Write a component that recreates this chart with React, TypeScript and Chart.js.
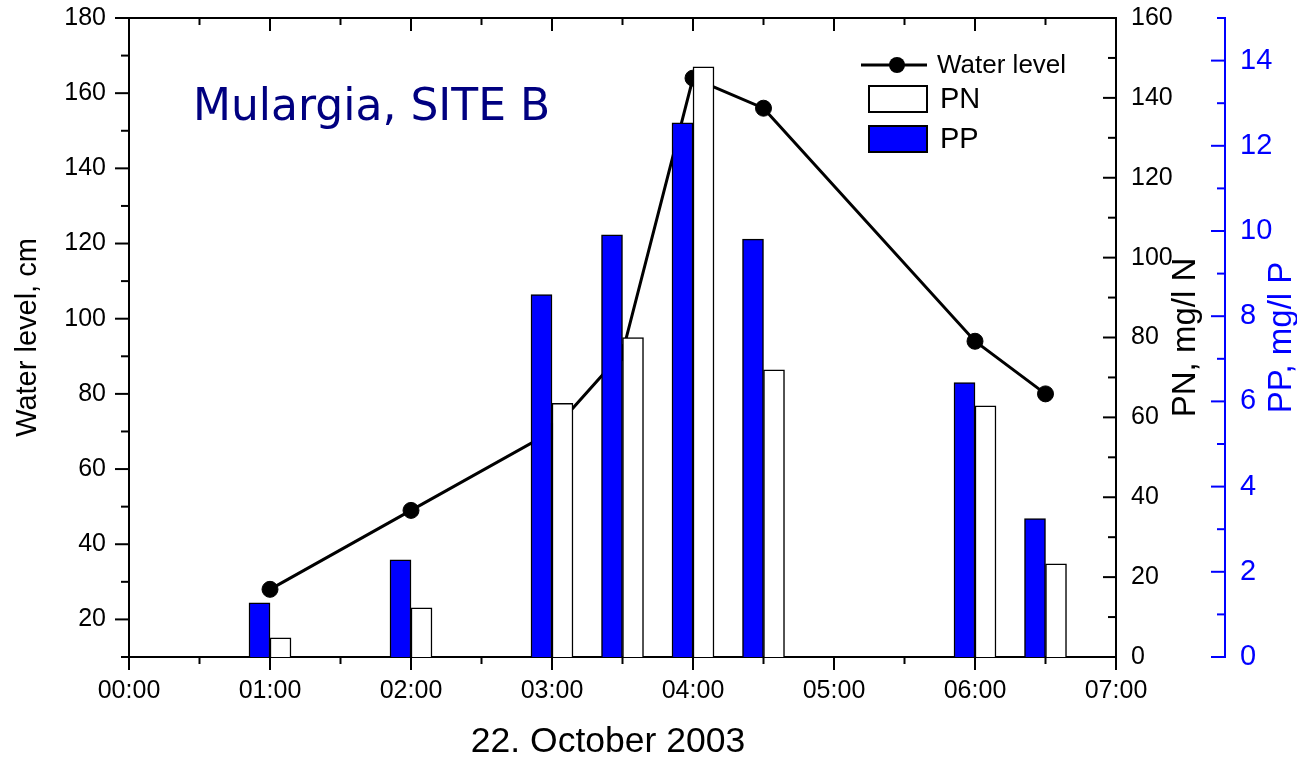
import React, { useEffect, useRef } from 'react';
import { Chart, registerables } from 'chart.js';

Chart.register(...registerables);

// ---- Data ----
const sampleHours = [1, 2, 3, 3.5, 4, 4.5, 6, 6.5];
const waterLevel = [28, 49, 70, 91, 164, 156, 94, 80];
const ppValues = [1.27, 2.28, 8.51, 9.91, 12.54, 9.81, 6.44, 3.25];
const pnValues = [4.8, 12.3, 63.5, 80.0, 147.8, 71.9, 62.9, 23.3];

// ---- Tick values ----
const xMajorTicks = [0, 1, 2, 3, 4, 5, 6, 7];
const xMinorTicks = [0.5, 1.5, 2.5, 3.5, 4.5, 5.5, 6.5];
const waterMajorTicks = [20, 40, 60, 80, 100, 120, 140, 160, 180];
const waterMinorTicks = [10, 30, 50, 70, 90, 110, 130, 150, 170];
const pnMajorTicks = [0, 20, 40, 60, 80, 100, 120, 140, 160];
const pnMinorTicks = [10, 30, 50, 70, 90, 110, 130, 150];
const ppMajorTicks = [0, 2, 4, 6, 8, 10, 12, 14];
const ppMinorTicks = [1, 3, 5, 7, 9, 11, 13, 15];

// ---- Texts ----
const chartTitle = 'Mulargia, SITE B';
const xTitle = '22. October 2003';
const waterTitle = 'Water level, cm';
const pnTitle = 'PN, mg/l N';
const ppTitle = 'PP, mg/l P';
const legendLabels = ['Water level', 'PN', 'PP'];

const FONT = "'Liberation Sans', Arial, sans-serif";
const BLUE = '#0000ff';

const fmtTime = (v: number) => {
  const h = Math.round(v);
  return (h < 10 ? '0' : '') + h + ':00';
};

const noLabelPadding = (s: any) => {
  s.paddingTop = 0;
  s.paddingBottom = 0;
};

const decorPlugin = {
  id: 'decor',
  afterDatasetsDraw(chart: any) {
    const { ctx, chartArea } = chart;
    const { left, right, top, bottom } = chartArea;
    const sx = chart.scales.x;
    const sy = chart.scales.y;
    const spn = chart.scales.yPN;
    const spp = chart.scales.yPP;
    const seg = (x1: number, y1: number, x2: number, y2: number, color: string, w: number) => {
      ctx.strokeStyle = color;
      ctx.lineWidth = w;
      ctx.beginPath();
      ctx.moveTo(x1, y1);
      ctx.lineTo(x2, y2);
      ctx.stroke();
    };
    ctx.save();
    ctx.lineCap = 'butt';
    // top frame
    seg(left - 1, top, right + 1, top, '#000', 2);
    // x ticks: bottom outward, top inward
    xMajorTicks.forEach((v) => {
      const px = sx.getPixelForValue(v);
      seg(px, bottom, px, bottom + 13, '#000', 2);
      seg(px, top, px, top + 13, '#000', 2);
    });
    xMinorTicks.forEach((v) => {
      const px = sx.getPixelForValue(v);
      seg(px, bottom, px, bottom + 7, '#000', 2);
      seg(px, top, px, top + 7, '#000', 2);
    });
    // left axis, outward
    waterMajorTicks.forEach((v) => {
      const py = sy.getPixelForValue(v);
      seg(left - 14, py, left, py, '#000', 2);
    });
    waterMinorTicks.forEach((v) => {
      const py = sy.getPixelForValue(v);
      seg(left - 8, py, left, py, '#000', 2);
    });
    // PN axis, inward
    pnMajorTicks.forEach((v) => {
      const py = spn.getPixelForValue(v);
      seg(right - 13, py, right, py, '#000', 2);
    });
    pnMinorTicks.forEach((v) => {
      const py = spn.getPixelForValue(v);
      seg(right - 8, py, right, py, '#000', 2);
    });
    // PP axis, ticks to the left of its line
    const ppx = spp.left;
    ppMajorTicks.forEach((v) => {
      const py = spp.getPixelForValue(v);
      seg(ppx - 14, py, ppx, py, BLUE, 2);
    });
    ppMinorTicks.forEach((v) => {
      const py = spp.getPixelForValue(v);
      seg(ppx - 8, py, ppx, py, BLUE, 2);
    });
    ctx.restore();
  },
  afterDraw(chart: any) {
    const { ctx, chartArea } = chart;
    const { left, right, top, bottom } = chartArea;
    const midY = (top + bottom) / 2;
    const spn = chart.scales.yPN;
    const spp = chart.scales.yPP;
    ctx.save();
    const vtext = (text: string, x: number, y: number, color: string, size: number) => {
      ctx.save();
      ctx.translate(x, y);
      ctx.rotate(-Math.PI / 2);
      ctx.textAlign = 'center';
      ctx.textBaseline = 'middle';
      ctx.fillStyle = color;
      ctx.font = `${size}px ${FONT}`;
      ctx.fillText(text, 0, 0);
      ctx.restore();
    };
    vtext(pnTitle, spn.left + 70, midY, '#000', 33);
    vtext(ppTitle, spp.left + 57, midY, BLUE, 33);

    // x axis title
    ctx.fillStyle = '#000';
    ctx.font = `35.5px ${FONT}`;
    ctx.textAlign = 'center';
    ctx.textBaseline = 'middle';
    ctx.fillText(xTitle, left + 479, 742);

    // chart title
    ctx.fillStyle = '#000080';
    ctx.font = "44px 'DejaVu Sans', Verdana, sans-serif";
    ctx.textAlign = 'left';
    ctx.textBaseline = 'alphabetic';
    ctx.fillText(chartTitle, left + 64, top + 102);

    // legend
    const lx = right - 255;
    const ly = top + 47;
    ctx.strokeStyle = '#000';
    ctx.lineWidth = 3;
    ctx.beginPath();
    ctx.moveTo(lx, ly);
    ctx.lineTo(lx + 66, ly);
    ctx.stroke();
    ctx.fillStyle = '#000';
    ctx.beginPath();
    ctx.arc(lx + 36, ly, 8, 0, Math.PI * 2);
    ctx.fill();
    ctx.textBaseline = 'middle';
    ctx.font = `26px ${FONT}`;
    ctx.fillText(legendLabels[0], lx + 76, ly + 1);

    ctx.lineWidth = 2;
    ctx.fillStyle = '#ffffff';
    ctx.fillRect(lx + 8, ly + 21, 58, 26);
    ctx.strokeRect(lx + 8, ly + 21, 58, 26);
    ctx.fillStyle = BLUE;
    ctx.fillRect(lx + 8, ly + 61, 58, 26);
    ctx.strokeRect(lx + 8, ly + 61, 58, 26);
    ctx.fillStyle = '#000';
    ctx.font = `29px ${FONT}`;
    ctx.fillText(legendLabels[1], lx + 79, ly + 35);
    ctx.fillText(legendLabels[2], lx + 79, ly + 75);
    ctx.restore();
  },
};

export default function App() {
  const canvasRef = useRef<HTMLCanvasElement>(null);

  useEffect(() => {
    document.body.style.margin = '0';
    const canvas = canvasRef.current as HTMLCanvasElement;
    const chart = new Chart(canvas, {
      type: 'bar',
      data: {
        datasets: [
          {
            type: 'bar',
            label: legendLabels[2],
            data: sampleHours.map((h, i) => ({ x: h, y: ppValues[i] })),
            xAxisID: 'x',
            yAxisID: 'yPP',
            backgroundColor: BLUE,
            borderColor: '#000',
            borderWidth: 1.5,
            barThickness: 21,
            stack: 'pp',
            order: 1,
          },
          {
            type: 'bar',
            label: legendLabels[1],
            data: sampleHours.map((h, i) => ({ x: h, y: pnValues[i] })),
            xAxisID: 'x',
            yAxisID: 'yPN',
            backgroundColor: '#ffffff',
            borderColor: '#000',
            borderWidth: 1.5,
            barThickness: 21,
            stack: 'pn',
            order: 1,
          },
          {
            type: 'line',
            label: legendLabels[0],
            data: sampleHours.map((h, i) => ({ x: h, y: waterLevel[i] })),
            xAxisID: 'x',
            yAxisID: 'y',
            borderColor: '#000',
            backgroundColor: '#000',
            borderWidth: 3,
            pointRadius: 8,
            pointBackgroundColor: '#000',
            pointBorderColor: '#000',
            pointBorderWidth: 1,
            tension: 0,
            fill: false,
            order: 2,
          },
        ] as any,
      },
      options: {
        responsive: false,
        animation: false,
        events: [],
        layout: { padding: { top: 18, left: 0, right: 0, bottom: 0 } },
        plugins: {
          legend: { display: false },
          tooltip: { enabled: false },
          title: { display: false },
        },
        scales: {
          x: {
            type: 'linear',
            position: 'bottom',
            min: 0,
            max: 7,
            offset: false,
            stacked: false,
            afterBuildTicks: (s: any) => {
              s.ticks = xMajorTicks.map((v) => ({ value: v }));
            },
            ticks: {
              callback: (v: any) => fmtTime(Number(v)),
              color: '#000',
              font: { family: FONT, size: 25 },
              padding: 19,
              maxRotation: 0,
              autoSkip: false,
            },
            grid: { display: false, drawTicks: false },
            border: { display: true, color: '#000', width: 2 },
            afterFit: (s: any) => {
              s.height = 103;
            },
          },
          y: {
            type: 'linear',
            position: 'left',
            min: 10,
            max: 180,
            afterBuildTicks: (s: any) => {
              s.ticks = waterMajorTicks.map((v) => ({ value: v }));
            },
            ticks: {
              color: '#000',
              font: { family: FONT, size: 25 },
              padding: 23,
            },
            grid: { display: false, drawTicks: false },
            border: { display: true, color: '#000', width: 2 },
            title: {
              display: true,
              text: waterTitle,
              color: '#000',
              font: { family: FONT, size: 29, lineHeight: 1 },
              padding: { top: 13.5, bottom: 0 },
            },
            afterFit: (s: any) => {
              s.width = 129;
              noLabelPadding(s);
            },
          },
          yPN: {
            type: 'linear',
            position: 'right',
            weight: 0,
            min: 0,
            max: 160,
            afterBuildTicks: (s: any) => {
              s.ticks = pnMajorTicks.map((v) => ({ value: v }));
            },
            ticks: {
              color: '#000',
              font: { family: FONT, size: 25 },
              padding: 15,
            },
            grid: { display: false, drawTicks: false },
            border: { display: true, color: '#000', width: 2 },
            afterFit: (s: any) => {
              s.width = 109;
              noLabelPadding(s);
            },
          },
          yPP: {
            type: 'linear',
            position: 'right',
            weight: 1,
            min: 0,
            max: 15,
            afterBuildTicks: (s: any) => {
              s.ticks = ppMajorTicks.map((v) => ({ value: v }));
            },
            ticks: {
              color: BLUE,
              font: { family: FONT, size: 29 },
              padding: 15,
            },
            grid: { display: false, drawTicks: false },
            border: { display: true, color: BLUE, width: 2 },
            afterFit: (s: any) => {
              s.width = 72;
              noLabelPadding(s);
            },
          },
        },
      } as any,
      plugins: [decorPlugin],
    });
    return () => chart.destroy();
  }, []);

  return (
    <div style={{ width: 1297, height: 760, position: 'relative' }}>
      <canvas ref={canvasRef} width={1297} height={760} style={{ display: 'block' }} />
    </div>
  );
}
